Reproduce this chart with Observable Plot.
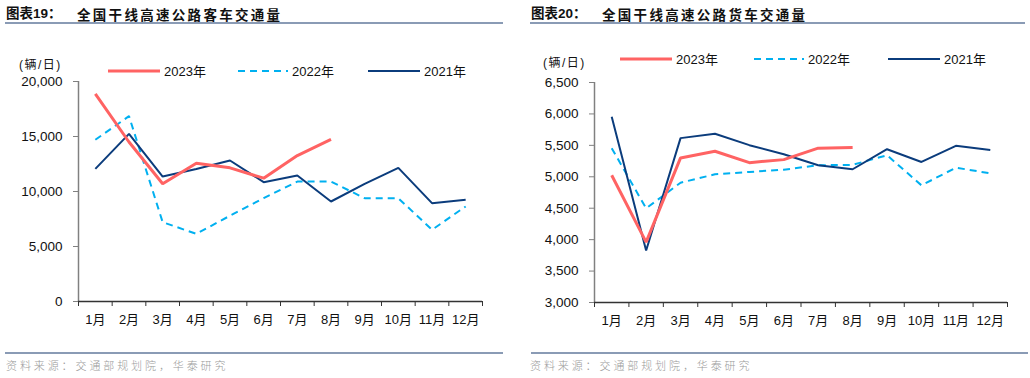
<!DOCTYPE html>
<html>
<head>
<meta charset="utf-8">
<script src="https://cdn.jsdelivr.net/npm/d3@7"></script>
<script src="https://cdn.jsdelivr.net/npm/@observablehq/plot@0.6"></script>
<style>
  html, body { margin: 0; padding: 0; background: #fff; }
  #root { position: relative; width: 1030px; height: 378px; overflow: hidden; background: #fff;
    font-family: "Liberation Sans", Arial, "Noto Sans CJK SC", sans-serif; color: #111; }
  .abs { position: absolute; }
  .t1 { font-weight: bold; font-size: 13.5px; white-space: nowrap; line-height: 16px; }
  .t2 { font-weight: bold; font-size: 13.5px; letter-spacing: 2.3px; white-space: nowrap; line-height: 16px; font-family: "Noto Sans CJK SC", sans-serif; }
  .uline { height: 2px; background: #8a9bb5; }
  .fline { height: 1.5px; background: #8a9bb5; }
  .foot { font-size: 11px; color: #9a9a9a; letter-spacing: 2.9px; white-space: nowrap; font-family: "Noto Sans CJK SC", sans-serif; font-weight: 300; line-height: 14px; }
  .unit { font-size: 12px; letter-spacing: 1.5px; white-space: nowrap; line-height: 14px; }
</style>
</head>
<body>
<div id="root"></div>
<script>
// ---- data ----
const months = [1, 2, 3, 4, 5, 6, 7, 8, 9, 10, 11, 12];
const monthLabels = ["1月","2月","3月","4月","5月","6月","7月","8月","9月","10月","11月","12月"];
const seriesNames = ["2023年", "2022年", "2021年"];

// 客车 (辆/日)
const keche2023 = [18880, 14500, 10700, 12570, 12150, 11210, 13270, 14730];
const keche2022 = [14700, 16850, 7210, 6150, 7800, 9400, 10900, 10900, 9390, 9390, 6520, 8640];
const keche2021 = [12060, 15240, 11360, 12050, 12820, 10850, 11450, 9090, 10700, 12150, 8940, 9240];
const kecheTicks = [0, 5000, 10000, 15000, 20000];

// 货车 (辆/日)
const huoche2023 = [5024, 3960, 5300, 5407, 5225, 5273, 5455, 5465];
const huoche2022 = [5455, 4497, 4906, 5040, 5077, 5113, 5183, 5190, 5343, 4864, 5145, 5055];
const huoche2021 = [5955, 3826, 5615, 5684, 5503, 5359, 5183, 5120, 5439, 5236, 5492, 5428];
const huocheTicks = [3000, 3500, 4000, 4500, 5000, 5500, 6000, 6500];

const colors = ["#ff6363", "#00b0f0", "#0b3c7c"];
const widths = [3, 2, 2];
const dashes = [null, "7,5", null];

const root = document.getElementById("root");

function el(cls, style, text) {
  const d = document.createElement("div");
  d.className = "abs " + cls;
  Object.assign(d.style, style);
  if (text != null) d.textContent = text;
  root.appendChild(d);
  return d;
}

function chart({ width, marginLeft, yDomain, yTicks, s23, s22, s21 }) {
  const rows = (arr) => arr.map((v, i) => ({ m: months[i], v }));
  const lineOpts = (k) => ({ x: "m", y: "v", stroke: colors[k], strokeWidth: widths[k],
    strokeDasharray: dashes[k] || undefined, strokeLinejoin: "miter", strokeLinecap: "butt" });
  return Plot.plot({
    width, height: 270,
    marginTop: 16, marginBottom: 34, marginLeft, marginRight: 23,
    style: { fontFamily: '"Liberation Sans", Arial, "Noto Sans CJK SC", sans-serif', fontSize: "13px",
      color: "#111", background: "transparent", overflow: "visible" },
    x: { domain: [0.5, 12.5], label: null },
    y: { domain: yDomain, label: null },
    marks: [
      Plot.ruleX([0.5], { y1: yDomain[0], y2: yDomain[1], stroke: "#808080", strokeWidth: 1.5 }),
      Plot.axisY({ ticks: yTicks, tickSize: 5, tickPadding: 11, tickFormat: d3.format(","), stroke: "#808080", fontSize: 13.5 }),
      Plot.axisX({ ticks: d3.range(0.5, 13, 1), tickSize: 5, tickFormat: () => "", stroke: "#333" }),
      Plot.axisX({ ticks: months, tickSize: 0, tickPadding: 13, tickFormat: (d) => monthLabels[d - 1] }),
      Plot.ruleY([yDomain[0]], { stroke: "#333", strokeWidth: 1.3 }),
      Plot.line(rows(s22), lineOpts(1)),
      Plot.line(rows(s21), lineOpts(2)),
      Plot.line(rows(s23), lineOpts(0)),
    ]
  });
}

function legend(left, top, items) {
  const ns = "http://www.w3.org/2000/svg";
  const svg = document.createElementNS(ns, "svg");
  svg.setAttribute("width", 420); svg.setAttribute("height", 20);
  svg.style.position = "absolute"; svg.style.left = left + "px"; svg.style.top = top + "px";
  svg.style.overflow = "visible";
  items.forEach((it, k) => {
    const ln = document.createElementNS(ns, "line");
    ln.setAttribute("x1", it.x0); ln.setAttribute("x2", it.x1);
    ln.setAttribute("y1", 10); ln.setAttribute("y2", 10);
    ln.setAttribute("stroke", colors[k]); ln.setAttribute("stroke-width", widths[k] === 3 ? 3 : 2.2);
    if (dashes[k]) ln.setAttribute("stroke-dasharray", dashes[k]);
    svg.appendChild(ln);
    const tx = document.createElementNS(ns, "text");
    tx.setAttribute("x", it.x1 + 4); tx.setAttribute("y", 10); tx.setAttribute("dy", "0.35em");
    tx.setAttribute("font-size", "13"); tx.setAttribute("fill", "#111");
    tx.setAttribute("font-family", '"Liberation Sans", Arial, "Noto Sans CJK SC", sans-serif');
    tx.textContent = seriesNames[k];
    svg.appendChild(tx);
  });
  root.appendChild(svg);
}

// ---- left chart ----
const c1 = chart({ width: 505, marginLeft: 78, yDomain: [0, 20000], yTicks: kecheTicks,
  s23: keche2023, s22: keche2022, s21: keche2021 });
Object.assign(c1.style, { position: "absolute", left: "0px", top: "65px" });
root.appendChild(c1);

// ---- right chart ----
const c2 = chart({ width: 510, marginLeft: 74, yDomain: [3000, 6500], yTicks: huocheTicks,
  s23: huoche2023, s22: huoche2022, s21: huoche2021 });
Object.assign(c2.style, { position: "absolute", left: "520px", top: "66px" });
root.appendChild(c2);

// ---- titles ----
el("t1", { left: "6px", top: "6px" }, "图表19：");
el("t2", { left: "77px", top: "6px" }, "全国干线高速公路客车交通量");
el("uline", { left: "5px", top: "22px", width: "498px" });
el("t1", { left: "531px", top: "6px" }, "图表20：");
el("t2", { left: "602px", top: "6px" }, "全国干线高速公路货车交通量");
el("uline", { left: "530px", top: "22px", width: "495px" });

// ---- units ----
el("unit", { left: "19px", top: "58px" }, "(辆/日)");
el("unit", { left: "543px", top: "56px" }, "(辆/日)");

// ---- legends ----
legend(0, 61, [{ x0: 108, x1: 160 }, { x0: 238, x1: 288 }, { x0: 368, x1: 420 }]);
legend(520, 49, [{ x0: 100, x1: 152 }, { x0: 234, x1: 284 }, { x0: 368, x1: 420 }]);

// ---- footers ----
el("fline", { left: "5px", top: "352px", width: "498px" });
el("foot", { left: "6px", top: "358px" }, "资料来源：交通部规划院，华泰研究");
el("fline", { left: "531px", top: "352px", width: "497px" });
el("foot", { left: "530px", top: "358px" }, "资料来源：交通部规划院，华泰研究");
</script>
</body>
</html>
